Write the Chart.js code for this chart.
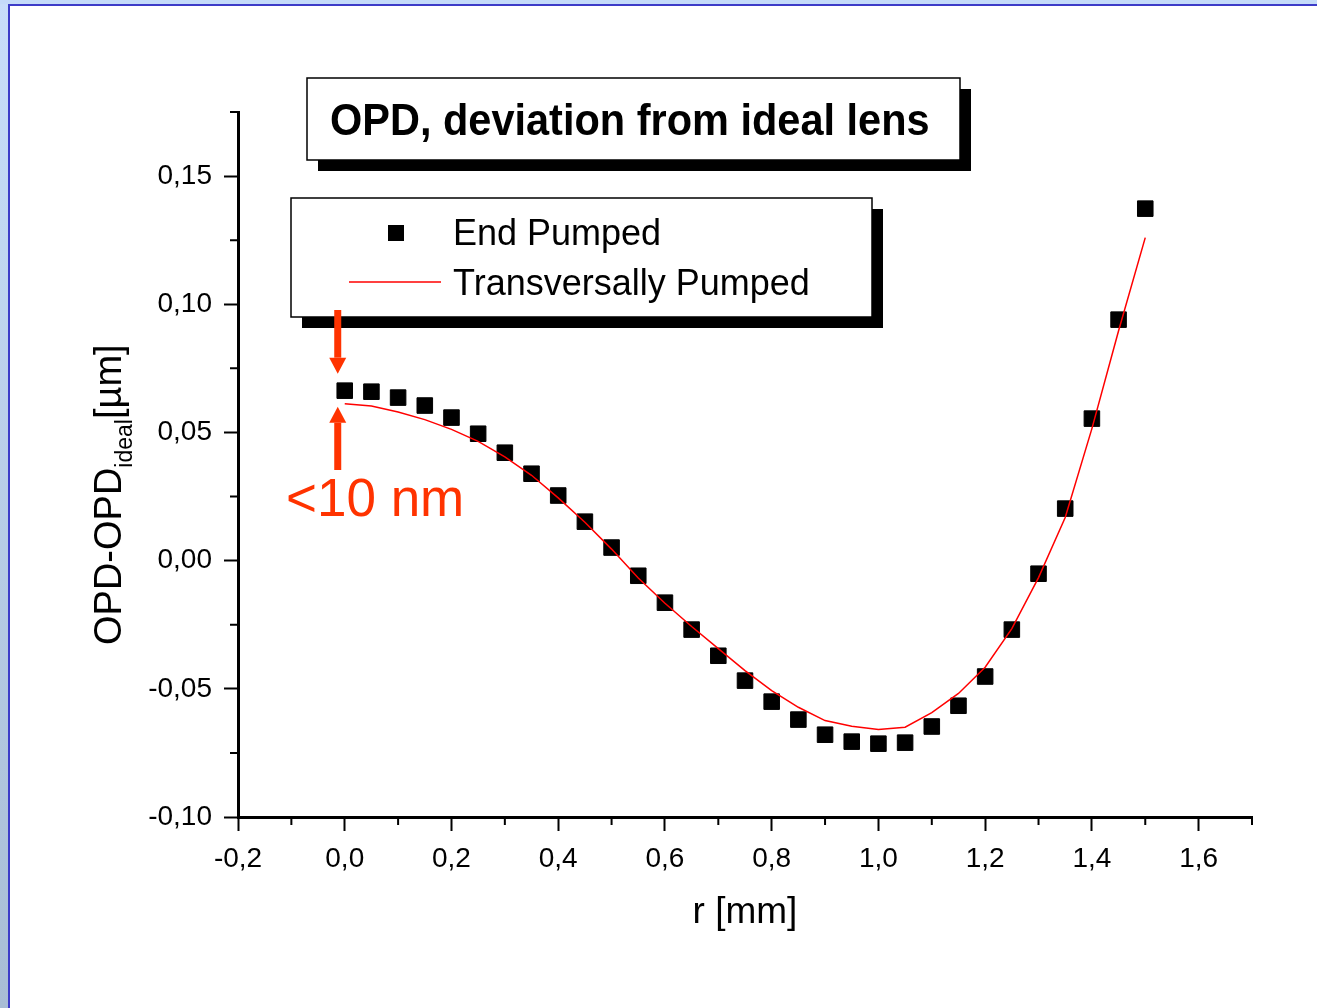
<!DOCTYPE html>
<html>
<head>
<meta charset="utf-8">
<title>OPD, deviation from ideal lens</title>
<script src="https://cdn.jsdelivr.net/npm/chart.js@4.4.0/dist/chart.umd.min.js"></script>
<style>
  html, body { margin: 0; padding: 0; background: #fff; overflow: hidden; }
  #opdChart { display: block; }
</style>
</head>
<body>
<canvas id="opdChart" width="1317" height="1008"></canvas>
<script>
// radius r [mm]
var rValues = [0, 0.05, 0.1, 0.15, 0.2, 0.25, 0.3, 0.35, 0.4, 0.45, 0.5, 0.55, 0.6, 0.65, 0.7, 0.75,
               0.8, 0.85, 0.9, 0.95, 1.0, 1.05, 1.1, 1.15, 1.2, 1.25, 1.3, 1.35, 1.4, 1.45, 1.5];

// OPD - OPD_ideal [um]
var endPumped = [0.0663, 0.0659, 0.0636, 0.0605, 0.0558, 0.0495, 0.0421, 0.0339, 0.0254, 0.0152, 0.0051,
                 -0.0059, -0.0164, -0.0269, -0.0371, -0.0468, -0.0550, -0.0620, -0.0679, -0.0706, -0.0714,
                 -0.0710, -0.0647, -0.0566, -0.0452, -0.0269, -0.0051, 0.0203, 0.0554, 0.0940, 0.1373];
var transPumped = [0.0612, 0.0603, 0.0580, 0.0550, 0.0512, 0.0465, 0.0405, 0.0333, 0.0245, 0.0150, 0.0045,
                   -0.0068, -0.0166, -0.0257, -0.0343, -0.0429, -0.0507, -0.0572, -0.0624, -0.0646, -0.0659,
                   -0.0650, -0.0593, -0.0518, -0.0416, -0.0265, -0.0066, 0.0168, 0.0515, 0.0897, 0.1260];

var seriesNames = ['End Pumped', 'Transversally Pumped'];

// axis ranges and tick spacing
var xRange = [-0.2, 1.7];
var yRange = [-0.1, 0.175];
var xMinorTicks = [-0.1, 0.1, 0.3, 0.5, 0.7, 0.9, 1.1, 1.3, 1.5, 1.7];
var yMinorTicks = [-0.075, -0.025, 0.025, 0.075, 0.125, 0.175];

var FONT = "'Liberation Sans', Arial, sans-serif";
var ORANGE = '#ff3300';

function commaLabel(digits) {
    return function(v) {
        if (Math.abs(v) < 1e-9) v = 0;
        return v.toFixed(digits).replace('.', ',');
    };
}

function drawBox(ctx, x, y, w, h, shadow) {
    ctx.fillStyle = '#000';
    ctx.fillRect(x + shadow, y + shadow, w, h);
    ctx.fillStyle = '#fff';
    ctx.fillRect(x, y, w, h);
    ctx.strokeStyle = '#000';
    ctx.lineWidth = 1.5;
    ctx.strokeRect(x, y, w, h);
}

function drawArrow(ctx, x, tailY, tipY) {
    var dir = tipY > tailY ? 1 : -1;
    var headBase = tipY - dir * 16;
    ctx.fillStyle = ORANGE;
    ctx.fillRect(x - 3.5, Math.min(tailY, headBase), 7, Math.abs(headBase - tailY));
    ctx.beginPath();
    ctx.moveTo(x - 8.5, headBase);
    ctx.lineTo(x + 8.5, headBase);
    ctx.lineTo(x, tipY);
    ctx.closePath();
    ctx.fill();
}

var decorations = {
    id: 'decorations',
    beforeDraw: function(chart) {
        var ctx = chart.ctx, w = chart.width, h = chart.height;
        ctx.save();
        ctx.fillStyle = '#fff';
        ctx.fillRect(0, 0, w, h);
        // slide frame on the left and top
        var grad = ctx.createLinearGradient(0, 0, 0, h);
        grad.addColorStop(0, '#c8defa');
        grad.addColorStop(1, '#a8bdd5');
        ctx.fillStyle = grad;
        ctx.fillRect(0, 0, 8, h);
        ctx.fillStyle = '#c4dbf9';
        ctx.fillRect(0, 0, w, 4);
        ctx.fillStyle = '#3c3cc8';
        ctx.fillRect(8, 4, 2, h);
        ctx.fillRect(8, 4, w, 2);
        ctx.restore();
    },
    afterDraw: function(chart) {
        var ctx = chart.ctx;
        var xs = chart.scales.x, ys = chart.scales.y;
        ctx.save();

        // minor ticks
        ctx.strokeStyle = '#000';
        ctx.lineWidth = 2;
        ctx.beginPath();
        xMinorTicks.forEach(function(v) {
            var p = xs.getPixelForValue(v);
            ctx.moveTo(p, ys.bottom);
            ctx.lineTo(p, ys.bottom + 8);
        });
        yMinorTicks.forEach(function(v) {
            var p = ys.getPixelForValue(v);
            ctx.moveTo(xs.left, p);
            ctx.lineTo(xs.left - 8, p);
        });
        ctx.stroke();

        // y axis title with subscript
        ctx.fillStyle = '#000';
        ctx.translate(121, 645);
        ctx.rotate(-Math.PI / 2);
        ctx.textAlign = 'left';
        ctx.textBaseline = 'alphabetic';
        ctx.font = '38px ' + FONT;
        ctx.fillText('OPD-OPD', 0, 0);
        var w1 = ctx.measureText('OPD-OPD').width;
        ctx.font = '23px ' + FONT;
        ctx.fillText('ideal', w1, 11);
        var w2 = ctx.measureText('ideal').width;
        ctx.font = '38px ' + FONT;
        ctx.fillText('[\u00b5m]', w1 + w2, 0);
        ctx.setTransform(1, 0, 0, 1, 0, 0);

        // title box
        drawBox(ctx, 307, 78, 653, 82, 11);
        ctx.fillStyle = '#000';
        ctx.font = 'bold 41.5px ' + FONT;
        ctx.save();
        ctx.translate(330, 135);
        ctx.scale(1, 1.08);
        ctx.fillText('OPD, deviation from ideal lens', 0, 0);
        ctx.restore();

        // legend box
        drawBox(ctx, 291, 198, 581, 119, 11);
        ctx.fillStyle = '#000';
        ctx.fillRect(388, 225, 16, 16);
        ctx.strokeStyle = '#ff0000';
        ctx.lineWidth = 1.5;
        ctx.beginPath();
        ctx.moveTo(349, 282);
        ctx.lineTo(441, 282);
        ctx.stroke();
        ctx.fillStyle = '#000';
        ctx.font = '36px ' + FONT;
        ctx.fillText(seriesNames[0], 453, 245);
        ctx.fillText(seriesNames[1], 453, 295);

        // difference marker at r = 0
        var ax = xs.getPixelForValue(0) - 7;
        var topPt = ys.getPixelForValue(endPumped[0]);
        var linePt = ys.getPixelForValue(transPumped[0]);
        drawArrow(ctx, ax, 310, topPt - 17);
        drawArrow(ctx, ax, 470, linePt + 3);
        ctx.fillStyle = ORANGE;
        ctx.font = '53px ' + FONT;
        ctx.fillText('<10 nm', 286, 516);

        ctx.restore();
    }
};

var endData = rValues.map(function(r, i) { return { x: r, y: endPumped[i] }; });
var transData = rValues.map(function(r, i) { return { x: r, y: transPumped[i] }; });

var ctx = document.getElementById('opdChart').getContext('2d');
var opdChart = new Chart(ctx, {
    type: 'scatter',
    data: {
        datasets: [{
            label: seriesNames[1],
            data: transData,
            showLine: true,
            borderColor: '#ff0000',
            borderWidth: 1.5,
            pointRadius: 0,
            tension: 0,
            order: 0
        }, {
            label: seriesNames[0],
            data: endData,
            pointStyle: 'rect',
            pointRadius: 11,
            backgroundColor: '#000',
            borderColor: '#000',
            borderWidth: 1,
            order: 1
        }]
    },
    plugins: [decorations],
    options: {
        responsive: false,
        animation: false,
        devicePixelRatio: 1,
        layout: { padding: { top: 112, right: 65, left: 0, bottom: 0 } },
        plugins: {
            legend: { display: false },
            tooltip: { enabled: false }
        },
        scales: {
            x: {
                type: 'linear',
                min: xRange[0],
                max: xRange[1],
                afterFit: function(scale) { scale.height = 191; },
                border: { display: true, color: '#000', width: 3 },
                grid: { display: true, drawOnChartArea: false, drawTicks: true, tickLength: 14, tickWidth: 2, tickColor: '#000' },
                ticks: {
                    stepSize: 0.2,
                    includeBounds: false,
                    padding: 11,
                    color: '#000',
                    maxRotation: 0,
                    font: { family: FONT, size: 28 },
                    callback: commaLabel(1)
                },
                title: {
                    display: true,
                    text: 'r [mm]',
                    color: '#000',
                    font: { family: FONT, size: 37 },
                    padding: { top: 0, bottom: 73 }
                }
            },
            y: {
                type: 'linear',
                min: yRange[0],
                max: yRange[1],
                afterFit: function(scale) { scale.width = 238; },
                border: { display: true, color: '#000', width: 3 },
                grid: { display: true, drawOnChartArea: false, drawTicks: true, tickLength: 14, tickWidth: 2, tickColor: '#000' },
                ticks: {
                    stepSize: 0.05,
                    includeBounds: false,
                    padding: 12,
                    color: '#000',
                    font: { family: FONT, size: 28 },
                    callback: commaLabel(2)
                }
            }
        }
    }
});
</script>
</body>
</html>
